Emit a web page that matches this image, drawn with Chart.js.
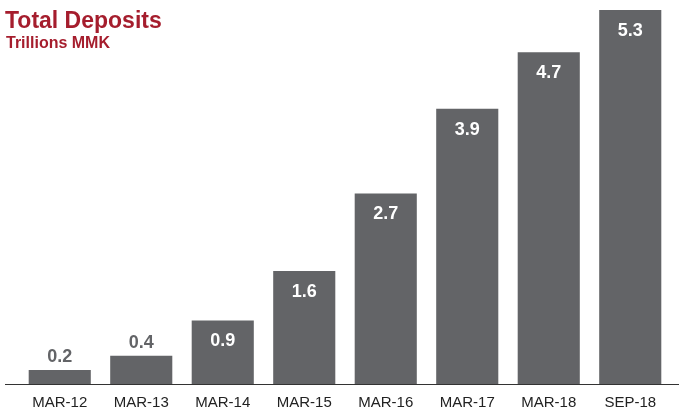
<!DOCTYPE html>
<html>
<head>
<meta charset="utf-8">
<script src="https://cdn.jsdelivr.net/npm/chart.js@4/dist/chart.umd.min.js"></script>
<style>
  html, body { margin: 0; padding: 0; background: #fff; }
  #wrap { position: relative; width: 679px; height: 410px; }
  #title { position: absolute; left: 5px; top: 7px; font: bold 23px "Liberation Sans", Arial, sans-serif; color: #a51d2d; line-height: 26px; }
  #subtitle { position: absolute; left: 6px; top: 34px; font: bold 16px "Liberation Sans", Arial, sans-serif; color: #a51d2d; line-height: 18px; }
</style>
</head>
<body>
<div id="wrap">
  <canvas id="depChart" width="679" height="410"></canvas>
  <div id="title">Total Deposits</div>
  <div id="subtitle">Trillions MMK</div>
</div>
<script>
// Data
const periods = ['MAR-12', 'MAR-13', 'MAR-14', 'MAR-15', 'MAR-16', 'MAR-17', 'MAR-18', 'SEP-18'];
const deposits = [0.2, 0.4, 0.9, 1.6, 2.7, 3.9, 4.7, 5.3];

const barColor = '#636467';

// Value labels: inside the bar (white) when tall enough, above it (grey) otherwise
function createValueLabelPlugin() {
    return {
        id: 'valueLabels',
        afterDatasetsDraw: (chart) => {
            const ctx = chart.ctx;
            const meta = chart.getDatasetMeta(0);
            ctx.save();
            ctx.font = 'bold 18px "Liberation Sans", Arial, sans-serif';
            ctx.textAlign = 'center';
            ctx.textBaseline = 'middle';
            meta.data.forEach((bar, i) => {
                const value = deposits[i];
                const height = bar.base - bar.y;
                if (height > 40) {
                    ctx.fillStyle = '#ffffff';
                    ctx.fillText(value.toFixed(1), bar.x, bar.y + 21);
                } else {
                    ctx.fillStyle = barColor;
                    ctx.fillText(value.toFixed(1), bar.x, bar.y - 13);
                }
            });
            ctx.restore();
        }
    };
}

// Baseline runs almost the full width of the picture
function createBaselinePlugin() {
    return {
        id: 'baseline',
        afterDatasetsDraw: (chart) => {
            const ctx = chart.ctx;
            const y = Math.round(chart.scales.y.getPixelForValue(0)) + 0.5;
            ctx.save();
            ctx.beginPath();
            ctx.moveTo(5, y);
            ctx.lineTo(679, y);
            ctx.lineWidth = 1;
            ctx.strokeStyle = '#333333';
            ctx.stroke();
            ctx.restore();
        }
    };
}

const chart = new Chart(document.getElementById('depChart'), {
    type: 'bar',
    data: {
        labels: periods,
        datasets: [{
            label: 'Total Deposits',
            data: deposits,
            backgroundColor: barColor,
            borderWidth: 0,
            categoryPercentage: 1,
            barPercentage: 0.762
        }]
    },
    options: {
        responsive: false,
        animation: false,
        layout: {
            padding: { left: 19, right: 8, top: 10, bottom: -12 }
        },
        plugins: {
            legend: { display: false },
            tooltip: { enabled: false }
        },
        scales: {
            x: {
                grid: { display: false, drawTicks: false },
                border: { display: false },
                ticks: {
                    color: '#222222',
                    padding: 10,
                    font: { family: '"Liberation Sans", Arial, sans-serif', size: 15 }
                }
            },
            y: {
                display: false,
                min: 0,
                max: 5.3
            }
        }
    },
    plugins: [createValueLabelPlugin(), createBaselinePlugin()]
});
</script>
</body>
</html>
